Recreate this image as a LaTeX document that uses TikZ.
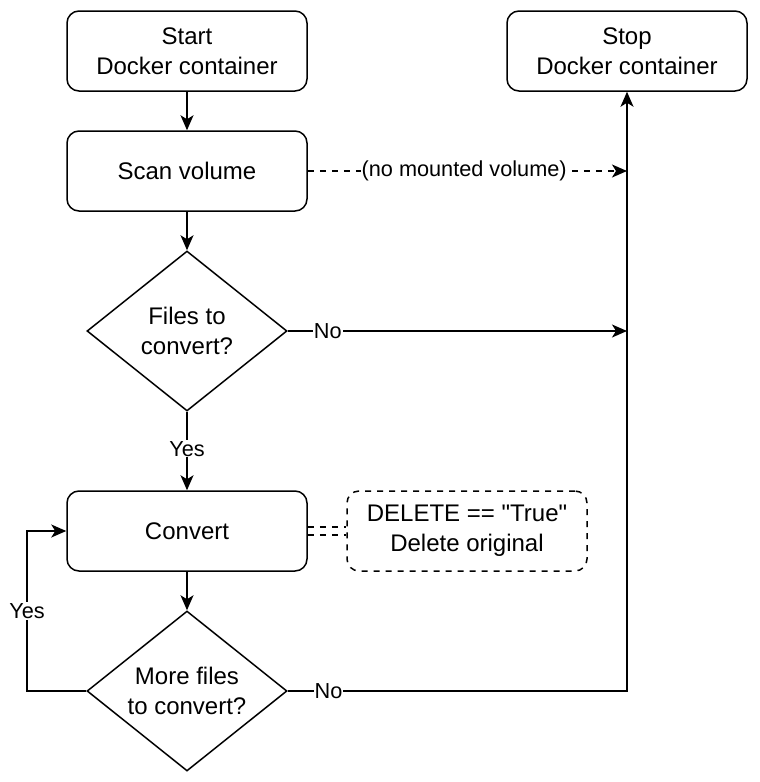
\documentclass[tikz,border=0pt]{standalone}
\usepackage{fontspec}
\setmainfont{Liberation Sans}[Ligatures=TeXOff]
\usetikzlibrary{shapes.geometric,arrows.meta}
\begin{document}
\begin{tikzpicture}[x=1pt,y=-1pt,
  every path/.style={line width=1.5pt},
  box/.style={draw, rounded corners=12pt, minimum width=240pt, minimum height=80pt, align=center, font=\fontsize{24}{30}\selectfont, inner sep=0pt},
  dbox/.style={box, dash pattern=on 6pt off 6pt},
  dia/.style={draw, diamond, aspect=1.25, minimum width=200pt, minimum height=160pt, align=center, font=\fontsize{24}{30}\selectfont, inner sep=0pt},
  arr/.style={-{Stealth[length=15pt,width=13pt,inset=4pt]}},
  lbl/.style={fill=white, inner sep=1pt, font=\fontsize{21.7}{24}\selectfont},
  dsh/.style={dash pattern=on 6pt off 6pt}
]
\useasboundingbox (0,0) rectangle (760,782);
\node[box] (start) at (187,51) {Start\\Docker container};
\node[box] (stop) at (627,51) {Stop\\Docker container};
\node[box] (scan) at (187,171) {Scan volume};
\node[dia] (files) at (187,331) {Files to\\convert?};
\node[box] (conv) at (187,531) {Convert};
\node[dbox] (del) at (467,531) {DELETE == "True"\\Delete original};
\node[dia] (more) at (187,691) {More files\\to convert?};
\coordinate (c1) at (627,171);
\coordinate (c2) at (627,331);
\coordinate (c3) at (27,691);
\coordinate (c4) at (27,531);
\coordinate (c5) at (627,691);

\draw[arr] (start) -- (scan);
\draw[arr] (scan) -- (files);
\draw[arr] (files) -- node[lbl, pos=0.47] {Yes} (conv);
\draw[arr] (conv) -- (more);
\draw[arr, dsh] (scan.east) -- node[lbl, pos=0.49] {(no mounted volume)} (c1);
\draw[arr] (files.east) -- node[lbl, pos=0.118] {No} (c2);
\draw[arr] (more.west) -- (c3) -- node[lbl, pos=0.5] {Yes} (c4) -- (conv.west);
\draw[arr] (more.east) -- node[lbl, pos=0.12] {No} (c5) -- (stop.south);
\draw[dsh] ([yshift=-4pt]conv.east) -- ([yshift=-4pt]del.west);
\draw[dsh] ([yshift=4pt]conv.east) -- ([yshift=4pt]del.west);
\end{tikzpicture}
\end{document}
